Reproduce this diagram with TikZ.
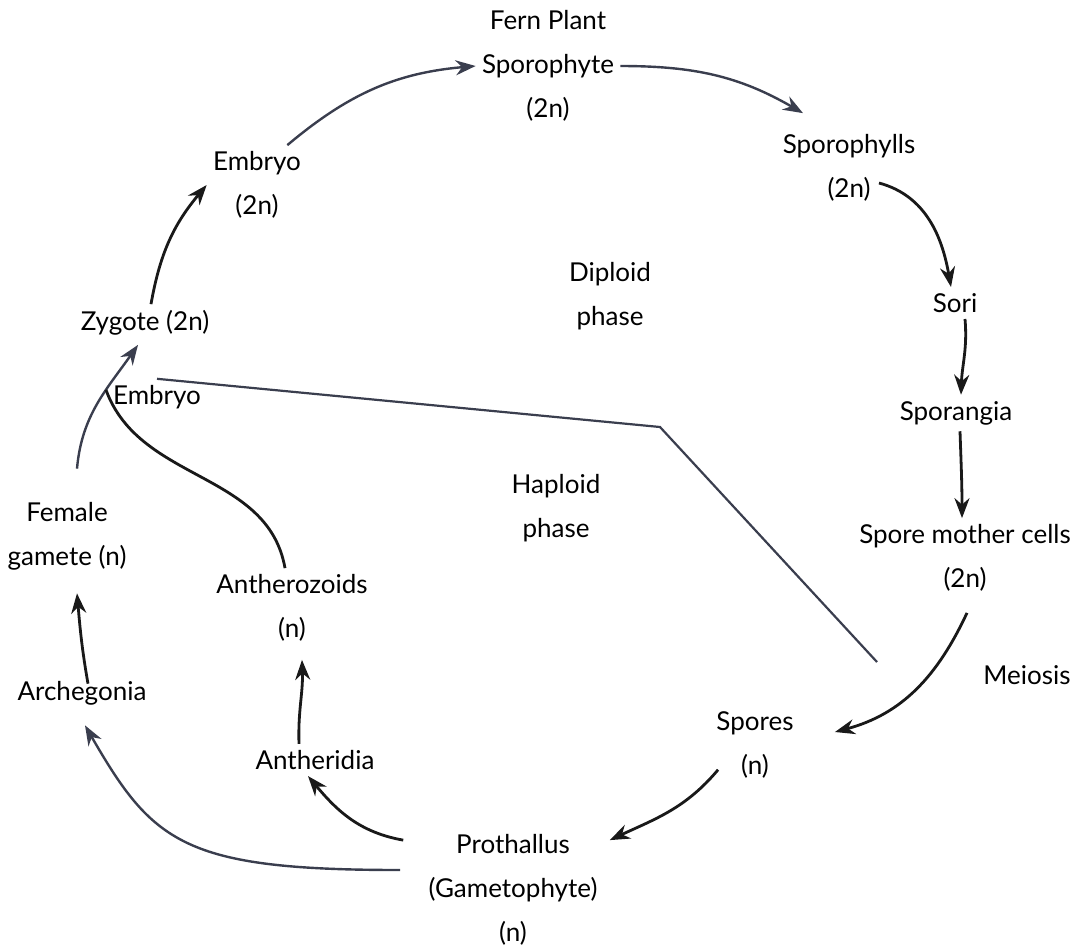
\documentclass[tikz,border=0pt]{standalone}
\usepackage{fontspec}
\setmainfont{Lato}
\usetikzlibrary{arrows.meta}
\definecolor{inkgray}{RGB}{58,62,78}

\begin{document}
\begin{tikzpicture}[
  x=0.5pt,
  y=0.5pt,
  stage/.style={
    align=center,
    inner sep=3pt,
    font=\fontsize{13}{22}\selectfont
  },
  flow/.style={line width=1.4pt,black!90,-{Stealth[length=10pt,width=7.5pt]}},
  soft/.style={line width=1.2pt,inkgray,-{Stealth[length=10pt,width=7.5pt]}},
  link/.style={line width=1.4pt,black!90},
  divide/.style={line width=1.1pt,inkgray}
]
  \useasboundingbox (0,0) rectangle (1071,-949);

  % Diploid half of the cycle.
  \node[stage] (plant) at (548,-66) {Fern Plant\\Sporophyte\\(2n)};
  \node[stage] (sporophylls) at (849,-168) {Sporophylls\\(2n)};
  \node[stage] (sori) at (955,-303) {Sori};
  \node[stage] (sporangia) at (956,-413) {Sporangia};
  \node[stage] (smc) at (965,-558) {Spore mother cells\\(2n)};
  \node[stage] (meiosis) at (1027,-675) {Meiosis};
  \node[stage] (zygote) at (145,-323) {Zygote (2n)};
  \node[stage] (embryo) at (257,-185) {Embryo\\(2n)};
  \node[stage] (diploid) at (610,-296) {Diploid\\phase};

  % Haploid half of the cycle.
  \node[stage] (spores) at (755,-745) {Spores\\(n)};
  \node[stage] (prothallus) at (513,-890) {Prothallus\\(Gametophyte)\\(n)};
  \node[stage] (antheridia) at (315,-760) {Antheridia};
  \node[stage] (archegonia) at (82,-693) {Archegonia};
  \node[stage] (antherozoids) at (292,-608) {Antherozoids\\(n)};
  \node[stage] (female) at (67,-536) {Female\\gamete (n)};
  \node[stage] (embryolbl) at (157,-397) {Embryo};
  \node[stage] (haploid) at (556,-508) {Haploid\\phase};

  % Boundary between the two phases.
  \coordinate (bend) at (660,-427);
  \coordinate (lineend) at (877,-662);
  \draw[divide] (embryolbl.north) -- (bend) -- (lineend);

  % Sporophyte generation.
  \draw[flow] ([shift={(6,0)}]zygote.north) to[out=80,in=230] (embryo.west);
  \draw[soft] ([shift={(-20,0)}]embryo.north east) to[out=40,in=185] (plant.west);
  \draw[soft] (plant.east) to[out=0,in=150]
    ([shift={(-46,15)}]sporophylls.north);
  \draw[flow] ([shift={(30,-15)}]sporophylls.center) to[out=-15,in=100]
    ([shift={(-4,0)}]sori.north);
  \draw[flow] ([shift={(10,0)}]sori.south) to[out=-85,in=88]
    ([shift={(5,0)}]sporangia.north);
  \draw[flow] ([shift={(4,0)}]sporangia.south) to[out=-88,in=90]
    ([shift={(-3,0)}]smc.north);
  \draw[flow] ([shift={(2,-15)}]smc.south) to[out=-115,in=15]
    ([shift={(35,13)}]spores.east);

  % Gametophyte generation.
  \draw[flow] ([shift={(8,15)}]spores.south west) to[out=-130,in=25]
    ([shift={(6,-12)}]prothallus.north east);
  \draw[flow] ([shift={(-19,-12)}]prothallus.north west) to[out=170,in=-50]
    ([shift={(-7,0)}]antheridia.south);
  \draw[flow] ([shift={(-16,0)}]antheridia.north) to[out=92,in=-88]
    ([shift={(10,-12)}]antherozoids.south);
  \draw[soft] ([shift={(-22,20)}]prothallus.west)
    to[out=180,in=-60,out looseness=1.6,in looseness=1]
    ([shift={(3,-14)}]archegonia.south);
  \draw[flow] ([shift={(6,-9)}]archegonia.north) to[out=100,in=-85]
    ([shift={(10,-17)}]female.south);
  \draw[soft] ([shift={(10,27)}]female.north) to[out=85,in=-125]
    coordinate[pos=0.62] (join) ([shift={(-7,-3)}]zygote.south);
  \draw[link] ([shift={(-7,0)}]antherozoids.north) to[out=100,in=-70] (join);
\end{tikzpicture}
\end{document}
